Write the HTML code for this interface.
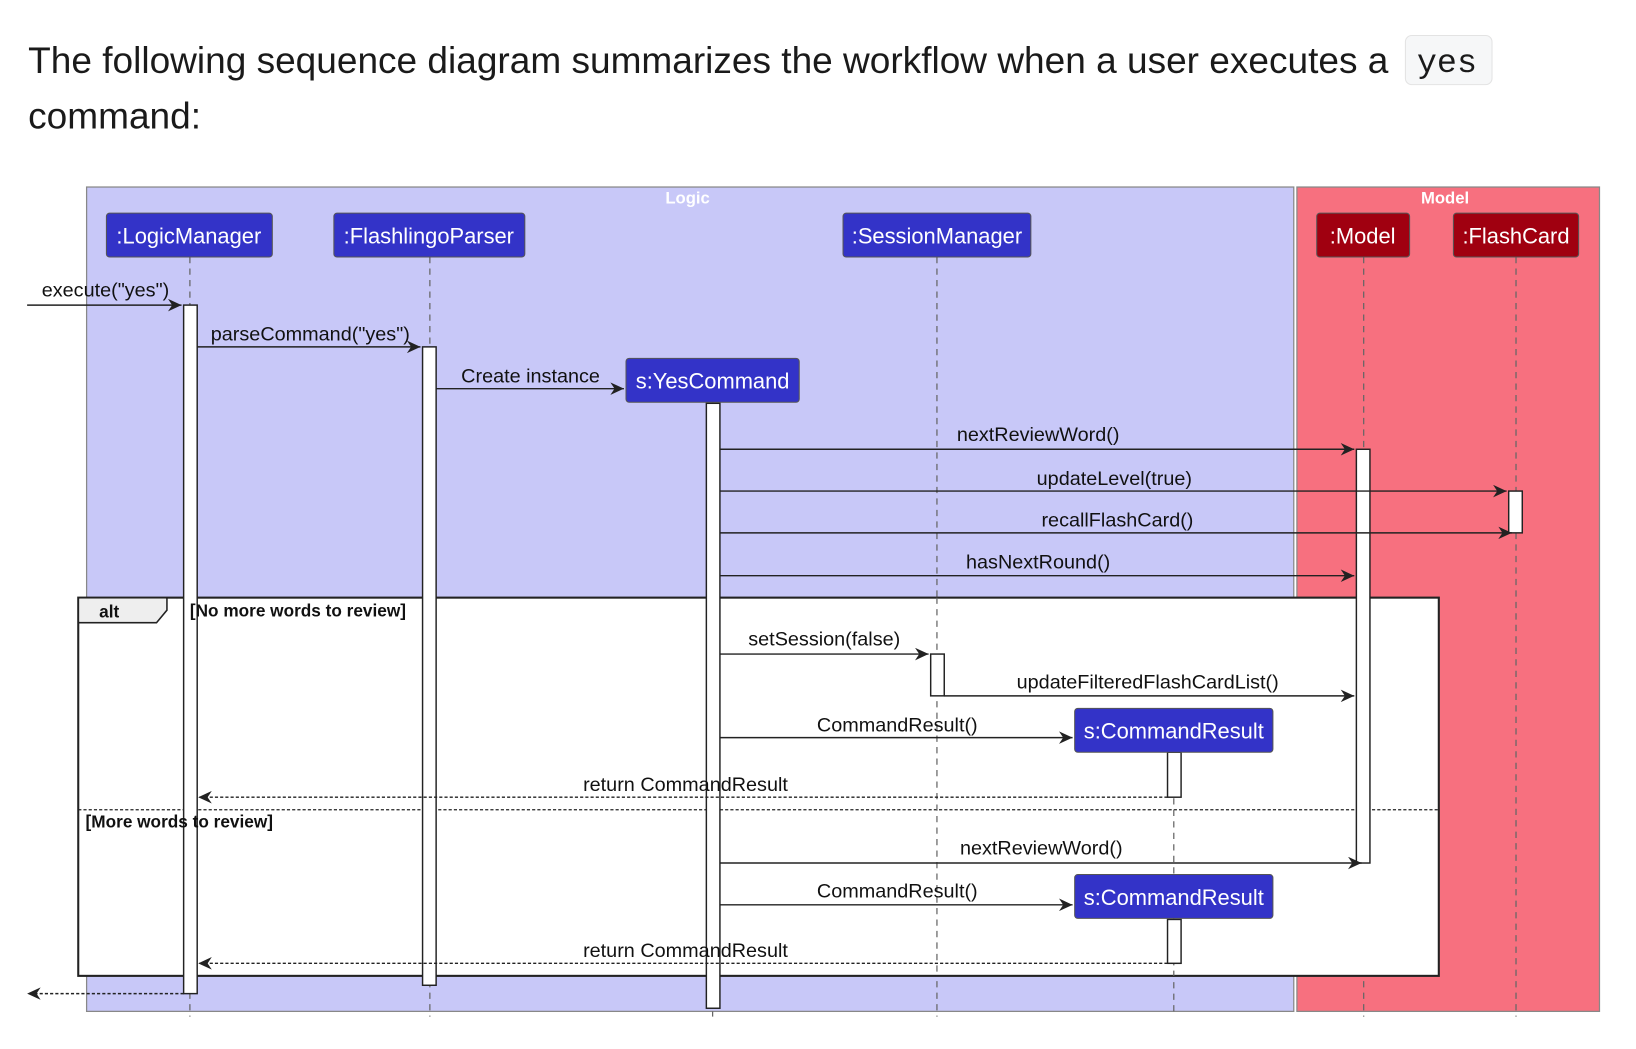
<!DOCTYPE html>
<html><head><meta charset="utf-8"><style>
html,body{margin:0;padding:0;background:#fff;width:1636px;height:1049px;overflow:hidden}
svg{display:block}
.h{font-family:"Liberation Sans",sans-serif;font-size:35.5px;fill:#1a1a1a}
.p{font-family:"Liberation Sans",sans-serif;font-size:21px;fill:#fff}
.m{font-family:"Liberation Sans",sans-serif;font-size:19px;fill:#111}
.g{font-family:"Liberation Sans",sans-serif;font-size:16.5px;font-weight:bold;fill:#111}
.t{font-family:"Liberation Sans",sans-serif;font-size:16px;font-weight:bold;fill:#fff}
.ll{stroke:#666;stroke-width:1.2;stroke-dasharray:6,5}
.ar{stroke:#222;stroke-width:1.4;fill:none}
.da{stroke:#222;stroke-width:1.4;fill:none;stroke-dasharray:3,2}
.act{fill:#fff;stroke:#222;stroke-width:1.4}
</style></head><body>
<svg width="1636" height="1049" viewBox="0 0 1568 1004" preserveAspectRatio="none" xmlns="http://www.w3.org/2000/svg">
<defs>
<marker id="a" markerWidth="14" markerHeight="12" refX="13" refY="6" orient="auto" markerUnits="userSpaceOnUse"><path d="M0,0 L13,6 L0,12 L4,6 Z" fill="#222"/></marker>
</defs>
<text class="h" x="27" y="70">The following sequence diagram summarizes the workflow when a user executes a</text>
<rect x="1347" y="34" width="83" height="47" rx="6" fill="#f6f7f8" stroke="#e3e3e3"/>
<text x="1358" y="69" style="font-family:'Liberation Mono',monospace;font-size:32px;fill:#1a1a1a">yes</text>
<text class="h" x="27" y="123">command:</text>

<rect x="83" y="179" width="1157" height="789" fill="#c8c8f8" stroke="#888" stroke-width="1.2"/>
<rect x="1243" y="179" width="290" height="789" fill="#f7707f" stroke="#888" stroke-width="1.2"/>
<text class="t" x="659" y="195" text-anchor="middle">Logic</text>
<text class="t" x="1385" y="195" text-anchor="middle">Model</text>

<g class="ll">
<line x1="182" y1="246" x2="182" y2="973"/><line x1="412" y1="246" x2="412" y2="973"/>
<line x1="898" y1="246" x2="898" y2="973"/><line x1="1307" y1="246" x2="1307" y2="973"/>
<line x1="1453" y1="246" x2="1453" y2="973"/><line x1="683" y1="385" x2="683" y2="973"/>
<line x1="1125" y1="720" x2="1125" y2="973"/>
</g>

<rect x="102" y="204" width="159" height="42" rx="3" fill="#3333c8" stroke="#555"/>
<text class="p" x="181" y="233" text-anchor="middle">:LogicManager</text>
<rect x="320" y="204" width="183" height="42" rx="3" fill="#3333c8" stroke="#555"/>
<text class="p" x="411" y="233" text-anchor="middle">:FlashlingoParser</text>
<rect x="808" y="204" width="180" height="42" rx="3" fill="#3333c8" stroke="#555"/>
<text class="p" x="898" y="233" text-anchor="middle">:SessionManager</text>
<rect x="1262" y="204" width="89" height="42" rx="3" fill="#a00010" stroke="#555"/>
<text class="p" x="1306" y="233" text-anchor="middle">:Model</text>
<rect x="1393" y="204" width="120" height="42" rx="3" fill="#a00010" stroke="#555"/>
<text class="p" x="1453" y="233" text-anchor="middle">:FlashCard</text>

<!-- alt frame -->
<rect x="75" y="572" width="1304" height="362" fill="#fff" stroke="#222" stroke-width="2"/>
<path d="M76,573 L159,573 L159,584 L150,595 L76,595 Z" fill="#eee"/>
<path d="M75,596 L150,596 L160,584 L160,572" fill="none" stroke="#222" stroke-width="1.5"/>
<line x1="75" y1="775" x2="1379" y2="775" stroke="#222" stroke-width="1.2" stroke-dasharray="3,2"/>
<g class="ll">
<line x1="182" y1="572" x2="182" y2="934"/><line x1="898" y1="572" x2="898" y2="934"/><line x1="1125" y1="720" x2="1125" y2="934"/>
</g>

<!-- activations -->
<rect class="act" x="176" y="292" width="13" height="659"/>
<rect class="act" x="405" y="332" width="13" height="611"/>
<rect class="act" x="677" y="386" width="13" height="579"/>
<rect class="act" x="1300" y="430" width="13" height="396"/>
<rect class="act" x="1446" y="470" width="13" height="40"/>
<rect class="act" x="892" y="626" width="13" height="40"/>
<rect class="act" x="1119" y="720" width="13" height="43"/>
<rect class="act" x="1119" y="880" width="13" height="42"/>

<text class="g" x="95" y="591">alt</text>
<text class="g" x="182" y="590">[No more words to review]</text>
<text class="g" x="82" y="792">[More words to review]</text>

<rect x="600" y="343" width="166" height="42" rx="3" fill="#3333c8" stroke="#555"/>
<text class="p" x="683" y="372" text-anchor="middle">s:YesCommand</text>
<rect x="1030" y="678" width="190" height="42" rx="3" fill="#3333c8" stroke="#555"/>
<text class="p" x="1125" y="707" text-anchor="middle">s:CommandResult</text>
<rect x="1030" y="837" width="190" height="42" rx="3" fill="#3333c8" stroke="#555"/>
<text class="p" x="1125" y="866" text-anchor="middle">s:CommandResult</text>

<!-- messages -->
<line class="ar" x1="26" y1="292" x2="174" y2="292" marker-end="url(#a)"/>
<text class="m" x="40" y="284">execute("yes")</text>
<line class="ar" x1="189" y1="332" x2="403" y2="332" marker-end="url(#a)"/>
<text class="m" x="202" y="326">parseCommand("yes")</text>
<line class="ar" x1="418" y1="372" x2="598" y2="372" marker-end="url(#a)"/>
<text class="m" x="442" y="366">Create instance</text>
<line class="ar" x1="690" y1="430" x2="1298" y2="430" marker-end="url(#a)"/>
<text class="m" x="995" y="422" text-anchor="middle">nextReviewWord()</text>
<line class="ar" x1="690" y1="470" x2="1444" y2="470" marker-end="url(#a)"/>
<text class="m" x="1068" y="464" text-anchor="middle">updateLevel(true)</text>
<line class="ar" x1="690" y1="510" x2="1449" y2="510" marker-end="url(#a)"/>
<text class="m" x="1071" y="504" text-anchor="middle">recallFlashCard()</text>
<line class="ar" x1="690" y1="551" x2="1298" y2="551" marker-end="url(#a)"/>
<text class="m" x="995" y="544" text-anchor="middle">hasNextRound()</text>
<line class="ar" x1="690" y1="626" x2="890" y2="626" marker-end="url(#a)"/>
<text class="m" x="790" y="618" text-anchor="middle">setSession(false)</text>
<line class="ar" x1="905" y1="666" x2="1298" y2="666" marker-end="url(#a)"/>
<text class="m" x="1100" y="659" text-anchor="middle">updateFilteredFlashCardList()</text>
<line class="ar" x1="690" y1="706" x2="1028" y2="706" marker-end="url(#a)"/>
<text class="m" x="860" y="700" text-anchor="middle">CommandResult()</text>
<line class="da" x1="1119" y1="763" x2="190" y2="763" marker-end="url(#a)"/>
<text class="m" x="657" y="757" text-anchor="middle">return CommandResult</text>
<line class="ar" x1="690" y1="826" x2="1305" y2="826" marker-end="url(#a)"/>
<text class="m" x="998" y="818" text-anchor="middle">nextReviewWord()</text>
<line class="ar" x1="690" y1="866" x2="1028" y2="866" marker-end="url(#a)"/>
<text class="m" x="860" y="859" text-anchor="middle">CommandResult()</text>
<line class="da" x1="1119" y1="922" x2="190" y2="922" marker-end="url(#a)"/>
<text class="m" x="657" y="916" text-anchor="middle">return CommandResult</text>
<line class="da" x1="176" y1="951" x2="26" y2="951" marker-end="url(#a)"/>
</svg>
</body></html>
